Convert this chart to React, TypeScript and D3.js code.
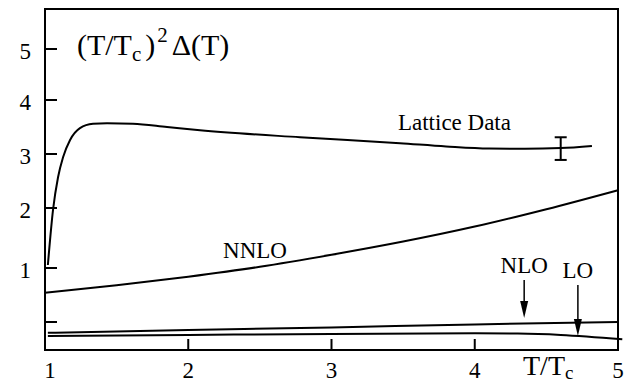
import React from "react";
import * as d3 from "d3";

const width = 628;
const height = 384;
const frame = { left: 45, right: 618, top: 9, bottom: 350 };

// T/Tc values and (T/Tc)^2 Δ(T)
const latticeT = [1.02, 1.056, 1.091, 1.126, 1.175, 1.244, 1.335, 1.433, 1.614, 1.852, 2.082, 2.78, 3.478, 3.8, 4.1, 4.35, 4.6, 4.818];
const latticeV = [1.05, 1.97, 2.57, 2.94, 3.26, 3.48, 3.56, 3.57, 3.56, 3.5, 3.44, 3.31, 3.2, 3.14, 3.1, 3.095, 3.11, 3.15];

const nnloT = [1.0, 1.5, 2.0, 2.5, 3.0, 3.5, 4.0, 4.5, 5.0];
const nnloV = [0.54, 0.68, 0.84, 1.02, 1.22, 1.44, 1.69, 1.98, 2.33];

const nloT = [1.02, 2.0, 3.0, 4.0, 5.0];
const nloV = [-0.2, -0.15, -0.1, -0.045, 0.0];

const loT = [1.02, 2.0, 3.0, 4.0, 4.3, 4.6, 5.03];
const loV = [-0.26, -0.24, -0.22, -0.21, -0.215, -0.24, -0.32];

// error bar on the lattice data
const errT = [4.6];
const errLow = [2.89];
const errHigh = [3.31];

// arrows pointing at NLO / LO
const arrowLabels = ["NLO", "LO"];
const arrowT = [4.345, 4.72];
const arrowTop = [0.78, 0.685];
const arrowTip = [0.074, -0.26];

const xTicks = [1, 2, 3, 4, 5];
const yTicks = [0, 1, 2, 3, 4, 5];
const yTickLabels = ["", "1", "2", "3", "4", "5"];

const serif = "'Liberation Serif', 'Times New Roman', serif";

const App = () => {
  const x = d3.scaleLinear().domain([1, 5]).range([frame.left, frame.right]);
  // the printed axis is not evenly spaced, so follow the tick marks
  const y = d3.scaleLinear().domain([0, 1, 2, 3, 4, 5]).range([322, 268, 208, 154, 100, 49]);

  const line = d3.line<number>().curve(d3.curveMonotoneX);

  const makePath = (ts: number[], vs: number[]) =>
    line.x((_, i) => x(ts[i])).y((_, i) => y(vs[i]))(ts);

  const curves = [
    makePath(latticeT, latticeV),
    makePath(nnloT, nnloV),
    makePath(nloT, nloV),
    makePath(loT, loV),
  ];

  return (
    <svg
      width={width}
      height={height}
      style={{ position: "absolute", left: 0, top: 0, background: "#fff" }}
      fontFamily={serif}
    >
      {/* frame */}
      <rect
        x={frame.left}
        y={frame.top}
        width={frame.right - frame.left}
        height={frame.bottom - frame.top}
        fill="none"
        stroke="#000"
        strokeWidth={2}
      />

      {/* y ticks, pointing inwards */}
      {yTicks.map((t, i) => (
        <g key={"y" + t}>
          <line x1={frame.left} x2={frame.left + 12} y1={y(t)} y2={y(t)} stroke="#000" strokeWidth={2} />
          <text x={31} y={y(t) + 10} fontSize={23} textAnchor="end">
            {yTickLabels[i]}
          </text>
        </g>
      ))}

      {/* x ticks */}
      {xTicks.map((t, i) => (
        <g key={"x" + t}>
          <line x1={x(t)} x2={x(t)} y1={frame.bottom} y2={frame.bottom - 11} stroke="#000" strokeWidth={2} />
          <text x={x(t) + (i === 0 ? 5 : 0)} y={378} fontSize={23} textAnchor="middle">
            {t}
          </text>
        </g>
      ))}

      {/* axis label */}
      <text x={523} y={375} fontSize={28}>
        T/T<tspan fontSize={19} dy={4}>c</tspan>
      </text>

      {/* title */}
      <text x={x(1.223)} y={y(4.88)} fontSize={30}>
        (T/T<tspan fontSize={21} dy={6}>c</tspan>
        <tspan dx={4} dy={-6}>)</tspan>
        <tspan fontSize={21} dx={2} dy={-13}>2</tspan>
        <tspan dx={4} dy={13}>Δ(T)</tspan>
      </text>

      {/* curves */}
      {curves.map((d, i) => (
        <path key={i} d={d ?? ""} fill="none" stroke="#000" strokeWidth={2} />
      ))}

      {/* error bar */}
      {errT.map((t, i) => (
        <g key={"e" + i} stroke="#000" strokeWidth={2}>
          <line x1={x(t)} x2={x(t)} y1={y(errLow[i])} y2={y(errHigh[i])} />
          <line x1={x(t) - 6} x2={x(t) + 6} y1={y(errLow[i])} y2={y(errLow[i])} />
          <line x1={x(t) - 6} x2={x(t) + 6} y1={y(errHigh[i])} y2={y(errHigh[i])} />
        </g>
      ))}

      {/* curve labels */}
      <text x={x(3.464)} y={y(3.44)} fontSize={23}>
        Lattice Data
      </text>
      <text x={x(2.243)} y={y(1.17)} fontSize={23}>
        NNLO
      </text>

      {/* arrows */}
      {arrowLabels.map((lab, i) => {
        const ax = x(arrowT[i]);
        const top = y(arrowTop[i]);
        const tip = y(arrowTip[i]);
        return (
          <g key={lab}>
            <line x1={ax} x2={ax} y1={top} y2={tip - 10} stroke="#000" strokeWidth={1.5} />
            <path d={`M${ax - 4},${tip - 17}L${ax + 4},${tip - 17}L${ax},${tip}Z`} fill="#000" />
            <text x={ax} y={top - 7} fontSize={23} textAnchor="middle">
              {lab}
            </text>
          </g>
        );
      })}
    </svg>
  );
};

export default App;
